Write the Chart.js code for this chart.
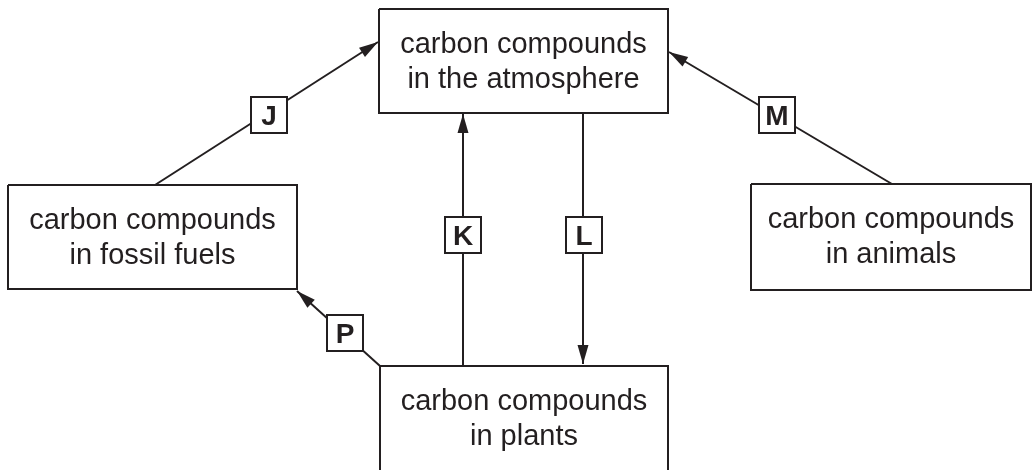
<!DOCTYPE html>
<html>
<head>
<meta charset="utf-8">
<script src="https://cdn.jsdelivr.net/npm/chart.js@4/dist/chart.umd.min.js"></script>
<style>
  body { margin: 0; background: #fff; }
  #wrap { width: 1032px; height: 470px; }
</style>
</head>
<body>
<div id="wrap"><canvas id="cycle"></canvas></div>
<script>
// Diagram content, in diagram units (one unit = one pixel of the reference)
const boxNames = ['atmosphere', 'fossil', 'animals', 'plants'];
const boxText = [
  ['carbon compounds', 'in the atmosphere'],
  ['carbon compounds', 'in fossil fuels'],
  ['carbon compounds', 'in animals'],
  ['carbon compounds', 'in plants']
];
// [left, top, right, bottom]
const boxBounds = [
  [379, 9, 668, 113],
  [8, 185, 297, 289],
  [751, 184, 1031, 290],
  [380, 366, 668, 480]
];

const arrowLabels = ['J', 'K', 'L', 'M', 'P'];
const arrowFrom = [[155, 185], [463, 366], [583, 113], [892, 184], [380, 366]];
const arrowTo = [[378, 42], [463, 114], [583, 364], [669, 52], [297, 291]];
const labelAt = [[269, 115], [463, 235], [584, 235], [777, 115], [345, 333]];

const ink = '#231f20';

const datasets = [];
boxBounds.forEach(([l, t, r, b], i) => {
  datasets.push({
    label: boxNames[i],
    data: [{x: l, y: t}, {x: r, y: t}, {x: r, y: b}, {x: l, y: b}, {x: l, y: t}]
  });
});
arrowLabels.forEach((name, i) => {
  datasets.push({
    label: name,
    data: [{x: arrowFrom[i][0], y: arrowFrom[i][1]}, {x: arrowTo[i][0], y: arrowTo[i][1]}]
  });
});
datasets.forEach(ds => {
  ds.showLine = true;
  ds.borderColor = ink;
  ds.borderWidth = 2;
  ds.pointRadius = 0;
  ds.fill = false;
  ds.tension = 0;
});

// arrowheads, letter tags and box texts
const diagram = {
  id: 'diagram',
  afterDatasetsDraw(chart) {
    const {ctx, scales: {x, y}} = chart;
    ctx.save();
    ctx.fillStyle = ink;
    ctx.strokeStyle = ink;

    arrowTo.forEach((tip, i) => {
      const fx = x.getPixelForValue(arrowFrom[i][0]), fy = y.getPixelForValue(arrowFrom[i][1]);
      const tx = x.getPixelForValue(tip[0]), ty = y.getPixelForValue(tip[1]);
      const a = Math.atan2(ty - fy, tx - fx);
      const len = 19, half = 5.5;
      ctx.beginPath();
      ctx.moveTo(tx, ty);
      ctx.lineTo(tx - len * Math.cos(a) + half * Math.sin(a), ty - len * Math.sin(a) - half * Math.cos(a));
      ctx.lineTo(tx - len * Math.cos(a) - half * Math.sin(a), ty - len * Math.sin(a) + half * Math.cos(a));
      ctx.closePath();
      ctx.fill();
    });

    ctx.lineWidth = 2;
    ctx.textAlign = 'center';
    ctx.textBaseline = 'alphabetic';
    ctx.font = 'bold 28px "Liberation Sans", Arial, sans-serif';
    labelAt.forEach((p, i) => {
      const cx = x.getPixelForValue(p[0]), cy = y.getPixelForValue(p[1]);
      ctx.fillStyle = '#fff';
      ctx.fillRect(cx - 18, cy - 18, 36, 36);
      ctx.strokeRect(cx - 18, cy - 18, 36, 36);
      ctx.fillStyle = ink;
      ctx.fillText(arrowLabels[i], cx, cy + 10);
    });

    ctx.font = '29px "Liberation Sans", Arial, sans-serif';
    boxBounds.forEach(([l, t, r], i) => {
      const cx = (x.getPixelForValue(l) + x.getPixelForValue(r)) / 2;
      const top = y.getPixelForValue(t);
      boxText[i].forEach((line, k) => {
        ctx.fillText(line, cx, top + 44 + k * 35);
      });
    });
    ctx.restore();
  }
};

new Chart(document.getElementById('cycle'), {
  type: 'scatter',
  data: { datasets },
  options: {
    responsive: true,
    maintainAspectRatio: false,
    devicePixelRatio: 1,
    animation: false,
    layout: { padding: 0 },
    plugins: { legend: { display: false }, tooltip: { enabled: false } },
    scales: {
      x: { type: 'linear', min: 0, max: 1032, display: false },
      y: { type: 'linear', min: 0, max: 470, reverse: true, display: false }
    }
  },
  plugins: [diagram]
});
</script>
</body>
</html>
